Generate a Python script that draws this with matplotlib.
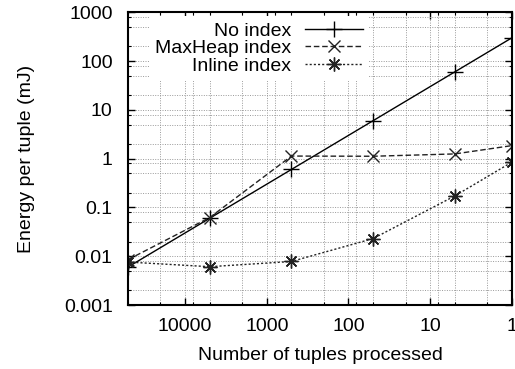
import matplotlib
matplotlib.use('Agg')
import matplotlib.pyplot as plt
from matplotlib.ticker import FixedLocator, FixedFormatter, NullFormatter

# Number of tuples processed (x) and energy per tuple in mJ (y)
tuples = [50000, 5000, 500, 50, 5, 1]
no_index = [0.006, 0.06, 0.6, 6, 60, 300]
maxheap_index = [0.0085, 0.062, 1.13, 1.12, 1.25, 1.85]
inline_index = [0.0076, 0.0061, 0.0078, 0.023, 0.172, 0.85]

x_ticks = [10000, 1000, 100, 10, 1]
x_labels = ['10000', '1000', '100', '10', '1']
y_ticks = [0.001, 0.01, 0.1, 1, 10, 100, 1000]
y_labels = ['0.001', '0.01', '0.1', '1', '10', '100', '1000']

plt.rcParams['font.family'] = ['Liberation Sans', 'DejaVu Sans']
plt.rcParams['font.size'] = 14

fig = plt.figure(figsize=(5.15, 3.69), dpi=100)
ax = fig.add_axes([0.2485, 0.1734, 0.7455, 0.7933])

ax.plot(tuples, no_index, color='black', linewidth=1.0, linestyle='-',
        marker='+', markersize=11, markeredgewidth=1.0, label='No index')
ax.plot(tuples, maxheap_index, color='#222222', linewidth=1.0, linestyle=(0, (4, 2)),
        marker='x', markersize=8, markeredgewidth=1.0, label='MaxHeap index')
ax.plot(tuples, inline_index, color='#222222', linewidth=1.0, linestyle=(0, (1.5, 1.5)),
        marker=(8, 2, 0), markersize=10, markeredgewidth=1.0, label='Inline index')

ax.set_xscale('log')
ax.set_yscale('log')
ax.set_xlim(50000, 1)
ax.set_ylim(0.001, 1000)

ax.xaxis.set_major_locator(FixedLocator(x_ticks))
ax.xaxis.set_major_formatter(FixedFormatter(x_labels))
ax.yaxis.set_major_locator(FixedLocator(y_ticks))
ax.yaxis.set_major_formatter(FixedFormatter(y_labels))

# minor grid at 2, 5 and 8 of each decade
minor_x = [m * 10 ** k for k in range(0, 5) for m in (2, 5, 8)]
minor_y = [m * 10.0 ** k for k in range(-3, 3) for m in (2, 5, 8)]
ax.xaxis.set_minor_locator(FixedLocator(minor_x))
ax.yaxis.set_minor_locator(FixedLocator(minor_y))
ax.xaxis.set_minor_formatter(NullFormatter())
ax.yaxis.set_minor_formatter(NullFormatter())

ax.grid(True, which='both', color='#999999', linestyle=(0, (1, 1.5)), linewidth=0.7)
ax.tick_params(which='major', direction='in', top=True, right=True, length=5, width=1)
ax.tick_params(which='minor', direction='in', top=True, right=True, length=2.5, width=0.8)
ax.tick_params(axis='x', pad=9)
ax.tick_params(axis='y', pad=11)
for sp in ax.spines.values():
    sp.set_linewidth(1.5)

ax.set_xlabel('Number of tuples processed', labelpad=9)
ax.set_ylabel('Energy per tuple (mJ)', labelpad=21)

leg = ax.legend(loc='upper left', bbox_to_anchor=(0.03, 1.02), markerfirst=False,
                handlelength=3.0, handletextpad=0.7, labelspacing=0.0,
                borderpad=0.3, frameon=True, fancybox=False, framealpha=1.0)
leg.get_frame().set_edgecolor('none')
leg.get_frame().set_facecolor('white')

fig.savefig('out.png', dpi=100)
